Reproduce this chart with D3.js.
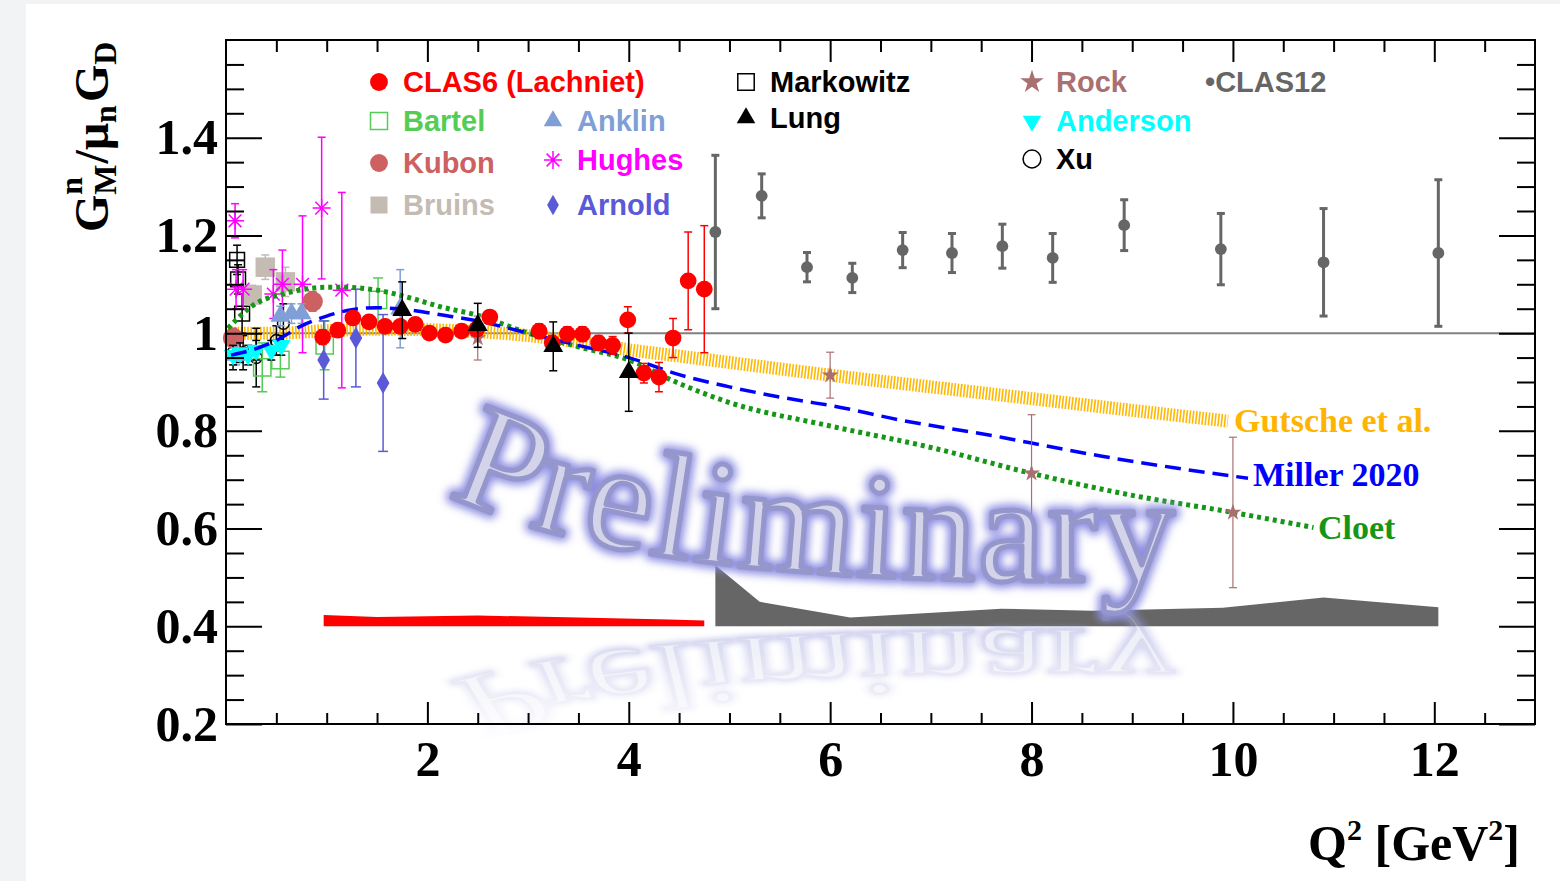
<!DOCTYPE html>
<html>
<head>
<meta charset="utf-8">
<script src="https://cdn.jsdelivr.net/npm/d3@7"></script>
<style>
  body { margin: 0; background: #f2f3f5; }
  svg { display: block; }
</style>
</head>
<body>
<svg id="chart" width="1560" height="881"></svg>
<script>
// fonts
var serif = "'Liberation Serif','Times New Roman',serif";
var sans = "'Liberation Sans',Arial,Helvetica,sans-serif";

// ---- data: [Q2, GMn/(mu_n G_D), error] ----
var clas6 = [
  [0.96, 0.992, 0.015], [1.11, 1.006, 0.012], [1.26, 1.031, 0.012], [1.42, 1.023, 0.012],
  [1.58, 1.014, 0.012], [1.73, 1.014, 0.012], [1.88, 1.018, 0.012], [2.02, 1.000, 0.012],
  [2.18, 0.996, 0.012], [2.34, 1.004, 0.012], [2.49, 1.008, 0.012], [2.62, 1.033, 0.012],
  [3.11, 1.004, 0.015], [3.24, 0.980, 0.015], [3.39, 0.998, 0.015], [3.54, 0.998, 0.015],
  [3.70, 0.980, 0.015], [3.84, 0.975, 0.018], [3.99, 1.027, 0.027], [4.15, 0.918, 0.020],
  [4.30, 0.910, 0.030], [4.44, 0.990, 0.040], [4.59, 1.107, 0.100], [4.75, 1.090, 0.130]
];
var clas12 = [
  [4.86, 1.207, 0.157], [5.32, 1.281, 0.045], [5.77, 1.135, 0.030], [6.22, 1.113, 0.030],
  [6.72, 1.170, 0.036], [7.21, 1.164, 0.040], [7.71, 1.178, 0.045], [8.21, 1.154, 0.050],
  [8.92, 1.221, 0.052], [9.88, 1.172, 0.073], [10.90, 1.145, 0.110], [12.04, 1.164, 0.150]
];
var bartel = [[0.36, 0.930, 0.050], [0.54, 0.945, 0.035], [0.98, 0.975, 0.050], [1.51, 1.068, 0.045]];
var kubon = [[0.07, 0.990, 0.020], [0.86, 1.065, 0.020]];
var bruins = [[0.26, 1.078, 0.020], [0.39, 1.135, 0.025], [0.59, 1.105, 0.030]];
var anklin = [[0.10, 0.955, 0.020], [0.54, 1.035, 0.020], [0.65, 1.040, 0.020], [0.75, 1.040, 0.020], [1.73, 1.050, 0.080]];
var hughes = [
  [0.09, 1.230, 0.035], [0.10, 1.090, 0.040], [0.17, 1.090, 0.040], [0.47, 1.080, 0.050],
  [0.56, 1.100, 0.070], [0.76, 1.100, 0.140], [0.95, 1.256, 0.145], [1.15, 1.088, 0.200]
];
var arnold = [[0.97, 0.945, 0.080], [1.29, 0.990, 0.100], [1.56, 0.898, 0.140]];
var markowitz = [[0.11, 1.150, 0.030], [0.12, 1.110, 0.030], [0.16, 1.040, 0.040]];
var lung = [[1.75, 1.047, 0.058], [2.50, 1.016, 0.045], [3.25, 0.973, 0.050], [4.00, 0.920, 0.080]];
var rock = [[2.50, 0.990, 0.045], [6.00, 0.914, 0.047], [8.00, 0.713, 0.120], [10.00, 0.633, 0.154]];
var anderson = [[0.07, 0.955, 0.020], [0.14, 0.960, 0.020], [0.22, 0.955, 0.020], [0.30, 0.965, 0.020], [0.45, 0.965, 0.020], [0.55, 0.975, 0.020]];
var xu = [[0.07, 0.960, 0.035], [0.17, 0.960, 0.035], [0.30, 0.950, 0.060], [0.50, 0.985, 0.030], [0.57, 1.020, 0.040]];

// systematic bands (top edge, baseline 0.4)
var clas6SysQ2 = [0.97, 1.5, 2.5, 3.5, 4.4, 4.75];
var clas6SysTop = [0.423, 0.419, 0.422, 0.418, 0.414, 0.412];
var clas12SysQ2 = [4.86, 5.3, 6.2, 7.7, 8.6, 9.9, 10.9, 12.04];
var clas12SysTop = [0.525, 0.450, 0.418, 0.436, 0.432, 0.438, 0.459, 0.439];

// theory curves
var gutscheQ2 = [0.02, 0.5, 1.0, 1.5, 2.0, 2.5, 3.0, 3.5, 4.0, 4.5, 5.0, 6.0, 7.0, 8.0, 9.0, 9.95];
var gutscheVal = [1.0, 1.0, 1.005, 1.008, 1.007, 1.003, 0.995, 0.982, 0.966, 0.953, 0.940, 0.914, 0.890, 0.866, 0.842, 0.820];
var millerQ2 = [0.05, 0.25, 0.5, 0.75, 1.0, 1.25, 1.5, 1.8, 2.15, 2.5, 3.0, 3.5, 4.0, 4.5, 5.0, 5.7, 6.0, 6.7, 7.7, 8.0, 8.7, 9.4, 10.15];
var millerVal = [0.955, 0.965, 0.985, 1.015, 1.035, 1.048, 1.052, 1.048, 1.037, 1.025, 1.0, 0.975, 0.950, 0.915, 0.890, 0.862, 0.852, 0.822, 0.787, 0.775, 0.748, 0.725, 0.703];
var cloetQ2 = [0.02, 0.27, 0.6, 1.03, 1.16, 1.5, 1.83, 2.15, 2.49, 3.0, 3.5, 4.0, 4.5, 5.0, 6.0, 7.0, 8.0, 9.0, 10.0, 10.8];
var cloetVal = [1.01, 1.057, 1.082, 1.094, 1.094, 1.088, 1.072, 1.053, 1.037, 1.0, 0.972, 0.945, 0.897, 0.858, 0.810, 0.766, 0.713, 0.668, 0.633, 0.602];

// ticks
var xMajor = [2, 4, 6, 8, 10, 12];
var yMajor = [0.2, 0.4, 0.6, 0.8, 1.0, 1.2, 1.4];

// ---- layout ----
var svg = d3.select("#chart");
svg.append("rect").attr("x", 26).attr("y", 4).attr("width", 1534).attr("height", 877).attr("fill", "#fff");

var x = d3.scaleLinear().domain([0, 13]).range([226, 1535]);
var y = d3.scaleLinear().domain([0.2, 1.6]).range([724, 40]);
var plot = svg.append("g");

// unity line
plot.append("line")
  .attr("x1", x(0)).attr("x2", x(13)).attr("y1", y(1)).attr("y2", y(1))
  .attr("stroke", "#808080").attr("stroke-width", 2);

// bands
var band = d3.area().x(function(d) { return x(d[0]); }).y0(y(0.4)).y1(function(d) { return y(d[1]); });
plot.append("path").attr("d", band(d3.zip(clas6SysQ2, clas6SysTop))).attr("fill", "#ff0000");
plot.append("path").attr("d", band(d3.zip(clas12SysQ2, clas12SysTop))).attr("fill", "#666666");

var curve = d3.line().x(function(d) { return x(d[0]); }).y(function(d) { return y(d[1]); }).curve(d3.curveMonotoneX);

// Gutsche: hatched orange
plot.append("path").attr("d", curve(d3.zip(gutscheQ2, gutscheVal)))
  .attr("fill", "none").attr("stroke", "#ffb700").attr("stroke-width", 13).attr("stroke-dasharray", "1.6,1.6");

// markers
function symPath(type, size) {
  if (type === "asterisk") {
    var r = size, a = r * 0.707;
    return "M" + (-r) + ",0L" + r + ",0M0," + (-r) + "L0," + r +
      "M" + (-a) + "," + (-a) + "L" + a + "," + a + "M" + (-a) + "," + a + "L" + a + "," + (-a);
  }
  var t = {circle: d3.symbolCircle, square: d3.symbolSquare, triangle: d3.symbolTriangle,
    invtri: d3.symbolTriangle, diamond: d3.symbolDiamond, star: d3.symbolStar}[type];
  return d3.symbol(t, size)();
}

function drawSet(data, o) {
  var g = plot.append("g");
  var eb = g.append("g").attr("stroke", o.ebColor || o.color).attr("stroke-width", o.ebWidth || 1.5);
  eb.selectAll(null).data(data).join("line")
    .attr("x1", function(d) { return x(d[0]); }).attr("x2", function(d) { return x(d[0]); })
    .attr("y1", function(d) { return y(d[1] + d[2]); }).attr("y2", function(d) { return y(d[1] - d[2]); });
  [1, -1].forEach(function(s) {
    eb.selectAll(null).data(data).join("line")
      .attr("x1", function(d) { return x(d[0]) - o.cap; }).attr("x2", function(d) { return x(d[0]) + o.cap; })
      .attr("y1", function(d) { return y(d[1] + s * d[2]); }).attr("y2", function(d) { return y(d[1] + s * d[2]); });
  });
  g.selectAll(null).data(data).join("path")
    .attr("d", symPath(o.type, o.size))
    .attr("transform", function(d) {
      return "translate(" + x(d[0]) + "," + y(d[1]) + ")" + (o.type === "invtri" ? " rotate(180)" : "");
    })
    .attr("fill", o.open || o.type === "asterisk" ? "none" : o.color)
    .attr("stroke", o.open || o.type === "asterisk" ? o.color : "none")
    .attr("stroke-width", 1.5);
}

drawSet(xu, {color: "#000", type: "circle", size: 110, open: true, cap: 4, ebWidth: 1.5});
drawSet(markowitz, {color: "#000", type: "square", size: 220, open: true, cap: 4});
drawSet(bruins, {color: "#c4bbb3", type: "square", size: 380, cap: 4});
drawSet(hughes, {color: "#ff00ff", type: "asterisk", size: 9, cap: 4});
drawSet(bartel, {color: "#55cc55", type: "square", size: 300, open: true, cap: 5});
drawSet(kubon, {color: "#cd6060", type: "circle", size: 330, cap: 4});
drawSet(anklin, {color: "#7f9fd6", type: "triangle", size: 170, cap: 4});
drawSet(anderson, {color: "#00ffff", type: "invtri", size: 150, cap: 4, ebColor: "#000"});
drawSet(arnold, {color: "#5a5ad8", type: "diamond", size: 140, cap: 5});

// Cloet + Miller
plot.append("path").attr("d", curve(d3.zip(cloetQ2, cloetVal)))
  .attr("fill", "none").attr("stroke", "#169616").attr("stroke-width", 5).attr("stroke-dasharray", "4,4");
plot.append("path").attr("d", curve(d3.zip(millerQ2, millerVal)))
  .attr("fill", "none").attr("stroke", "#0000ff").attr("stroke-width", 3.5).attr("stroke-dasharray", "16,8");

drawSet(rock, {color: "#a87070", type: "star", size: 90, cap: 4, ebWidth: 1.2});
drawSet(clas6, {color: "#ff0000", type: "circle", size: 220, cap: 4});
drawSet(lung, {color: "#000", type: "triangle", size: 170, cap: 4});
drawSet(clas12, {color: "#666666", type: "circle", size: 110, cap: 4, ebWidth: 3});

// curve labels
var labels = [
  {t: "Gutsche et al.", x: 1234, y: 432, c: "#ffb400"},
  {t: "Miller 2020", x: 1253, y: 486, c: "#0000ff"},
  {t: "Cloet", x: 1318, y: 539, c: "#169616"}
];
svg.append("g").selectAll("text").data(labels).join("text")
  .attr("x", function(d) { return d.x; }).attr("y", function(d) { return d.y; })
  .attr("fill", function(d) { return d.c; })
  .attr("font-family", serif).attr("font-weight", "bold").attr("font-size", 34)
  .text(function(d) { return d.t; });

// ---- Preliminary watermark ----
var defs = svg.append("defs");
defs.append("path").attr("id", "wmPath").attr("d", "M448,494 C560,550 760,588 1175,580");
defs.append("filter").attr("id", "glow").attr("x", "-20%").attr("y", "-40%").attr("width", "140%").attr("height", "180%")
  .append("feGaussianBlur").attr("stdDeviation", 4);
var fadeGrad = defs.append("linearGradient").attr("id", "fade").attr("gradientUnits", "userSpaceOnUse")
  .attr("x1", 0).attr("y1", 615).attr("x2", 0).attr("y2", 740);
fadeGrad.append("stop").attr("offset", 0).attr("stop-color", "#fff");
fadeGrad.append("stop").attr("offset", 1).attr("stop-color", "#000");
defs.append("mask").attr("id", "fadeMask").attr("maskUnits", "userSpaceOnUse")
  .attr("x", 0).attr("y", 0).attr("width", 1560).attr("height", 881)
  .append("rect").attr("x", 0).attr("y", 0).attr("width", 1560).attr("height", 881).attr("fill", "url(#fade)");

function wmText(g, fill, stroke, sw, filter) {
  var t = g.append("text").attr("font-family", serif).attr("font-size", 150)
    .attr("letter-spacing", 3).attr("fill", fill).attr("stroke", stroke).attr("stroke-width", sw)
    .attr("stroke-linejoin", "round");
  if (filter) t.attr("filter", filter);
  t.append("textPath").attr("href", "#wmPath").text("Preliminary");
}
// reflection: mirrored about y=611 and squashed
var refl = svg.append("g").attr("mask", "url(#fadeMask)").attr("opacity", 0.5)
  .append("g").attr("transform", "translate(0," + (611 * 1.62) + ") scale(1,-0.62)");
wmText(refl, "none", "#9a9be0", 10, "url(#glow)");
wmText(refl, "#d6d7ee", "#a3a4da", 4, null);
var wm = svg.append("g");
wmText(wm, "none", "#8c8de2", 12, "url(#glow)");
wmText(wm, "#d3d4e9", "#9596cc", 5, null);

// ---- frame and axes ----
svg.append("rect").attr("x", x(0)).attr("y", y(1.6)).attr("width", x(13) - x(0)).attr("height", y(0.2) - y(1.6))
  .attr("fill", "none").attr("stroke", "#000").attr("stroke-width", 2);

var xMinor = d3.range(1, 26).map(function(i) { return i * 0.5; }).filter(function(v) { return xMajor.indexOf(v) < 0; });
var yMinor = d3.range(5, 32).filter(function(i) { return i % 4 !== 0; }).map(function(i) { return i * 0.05; });

function styleAxis(g) {
  g.select(".domain").remove();
  g.selectAll("line").attr("stroke", "#000").attr("stroke-width", 2);
  g.attr("font-family", serif).attr("font-weight", "bold").attr("font-size", 50);
  g.selectAll("text").attr("fill", "#000");
}
var fmtY = function(d) { return Math.abs(d - 1) < 1e-9 ? "1" : d3.format(".1f")(d); };

svg.append("g").attr("transform", "translate(0," + y(0.2) + ")")
  .call(d3.axisBottom(x).tickValues(xMajor).tickSizeInner(-22).tickSizeOuter(0).tickPadding(16).tickFormat(d3.format("d")))
  .call(styleAxis);
svg.append("g").attr("transform", "translate(0," + y(0.2) + ")")
  .call(d3.axisBottom(x).tickValues(xMinor).tickSize(-11).tickFormat(""))
  .call(styleAxis);
svg.append("g").attr("transform", "translate(0," + y(1.6) + ")")
  .call(d3.axisTop(x).tickValues(xMajor).tickSize(-22).tickFormat(""))
  .call(styleAxis);
svg.append("g").attr("transform", "translate(0," + y(1.6) + ")")
  .call(d3.axisTop(x).tickValues(xMinor).tickSize(-12).tickFormat(""))
  .call(styleAxis);
svg.append("g").attr("transform", "translate(" + x(0) + ",0)")
  .call(d3.axisLeft(y).tickValues(yMajor).tickSizeInner(-36).tickSizeOuter(0).tickPadding(8).tickFormat(fmtY))
  .call(styleAxis);
svg.append("g").attr("transform", "translate(" + x(0) + ",0)")
  .call(d3.axisLeft(y).tickValues(yMinor).tickSize(-18).tickFormat(""))
  .call(styleAxis);
svg.append("g").attr("transform", "translate(" + x(13) + ",0)")
  .call(d3.axisRight(y).tickValues(yMajor).tickSize(-36).tickFormat(""))
  .call(styleAxis);
svg.append("g").attr("transform", "translate(" + x(13) + ",0)")
  .call(d3.axisRight(y).tickValues(yMinor).tickSize(-18).tickFormat(""))
  .call(styleAxis);

// x title
var xt = svg.append("text").attr("x", 1520).attr("y", 860).attr("text-anchor", "end")
  .attr("font-family", serif).attr("font-weight", "bold").attr("font-size", 50);
xt.append("tspan").text("Q");
xt.append("tspan").attr("dy", -20).attr("font-size", 30).text("2");
xt.append("tspan").attr("dy", 20).text(" [GeV");
xt.append("tspan").attr("dy", -20).attr("font-size", 30).text("2");
xt.append("tspan").attr("dy", 20).text("]");

// y title (rotated)
var yt = svg.append("g").attr("transform", "translate(108,232) rotate(-90)")
  .attr("font-family", serif).attr("font-weight", "bold");
var cx = 0;
function piece(str, size, dy) {
  var t = yt.append("text").attr("x", cx).attr("y", dy).attr("font-size", size).text(str);
  return t.node().getComputedTextLength();
}
cx += piece("G", 48, 0);
var wn = piece("n", 32, -26), wM = piece("M", 32, 8);
cx += Math.max(wn, wM) + 1;
cx += piece("/", 48, 0);
cx += piece("\u03bc", 48, 0);
cx += piece("n", 32, 8) + 3;
cx += piece("G", 48, 0);
piece("D", 32, 8);

// ---- legend ----
var legend = [
  {t: "CLAS6 (Lachniet)", c: "#ff0000", x: 403, y: 92, type: "circle", size: 250},
  {t: "Bartel", c: "#55cc55", x: 403, y: 131, type: "square", size: 290, open: true},
  {t: "Kubon", c: "#cd6060", x: 403, y: 173, type: "circle", size: 250},
  {t: "Bruins", c: "#c4bbb3", x: 403, y: 215, type: "square", size: 290},
  {t: "Anklin", c: "#7f9fd6", x: 577, y: 131, type: "triangle", size: 150},
  {t: "Hughes", c: "#ff00ff", x: 577, y: 170, type: "asterisk", size: 9},
  {t: "Arnold", c: "#5a5ad8", x: 577, y: 215, type: "diamond", size: 120},
  {t: "Markowitz", c: "#000", x: 770, y: 92, type: "square", size: 270, open: true},
  {t: "Lung", c: "#000", x: 770, y: 128, type: "triangle", size: 150},
  {t: "Rock", c: "#a87070", x: 1056, y: 92, type: "star", size: 170},
  {t: "Anderson", c: "#00ffff", x: 1056, y: 131, type: "invtri", size: 150},
  {t: "Xu", c: "#000", x: 1056, y: 169, type: "circle", size: 250, open: true},
  {t: "\u2022CLAS12", c: "#666666", x: 1205, y: 92, type: null}
];
var lg = svg.append("g");
lg.selectAll("text").data(legend).join("text")
  .attr("x", function(d) { return d.x; }).attr("y", function(d) { return d.y; })
  .attr("fill", function(d) { return d.c; })
  .attr("font-family", sans).attr("font-weight", "bold").attr("font-size", 29)
  .text(function(d) { return d.t; });
lg.selectAll("path").data(legend.filter(function(d) { return d.type; })).join("path")
  .attr("d", function(d) { return symPath(d.type, d.size); })
  .attr("transform", function(d) {
    return "translate(" + (d.x - 24) + "," + (d.y - 10) + ")" + (d.type === "invtri" ? " rotate(180)" : "");
  })
  .attr("fill", function(d) { return d.open || d.type === "asterisk" ? "none" : d.c; })
  .attr("stroke", function(d) { return d.open || d.type === "asterisk" ? d.c : "none"; })
  .attr("stroke-width", 1.5);
</script>
</body>
</html>
